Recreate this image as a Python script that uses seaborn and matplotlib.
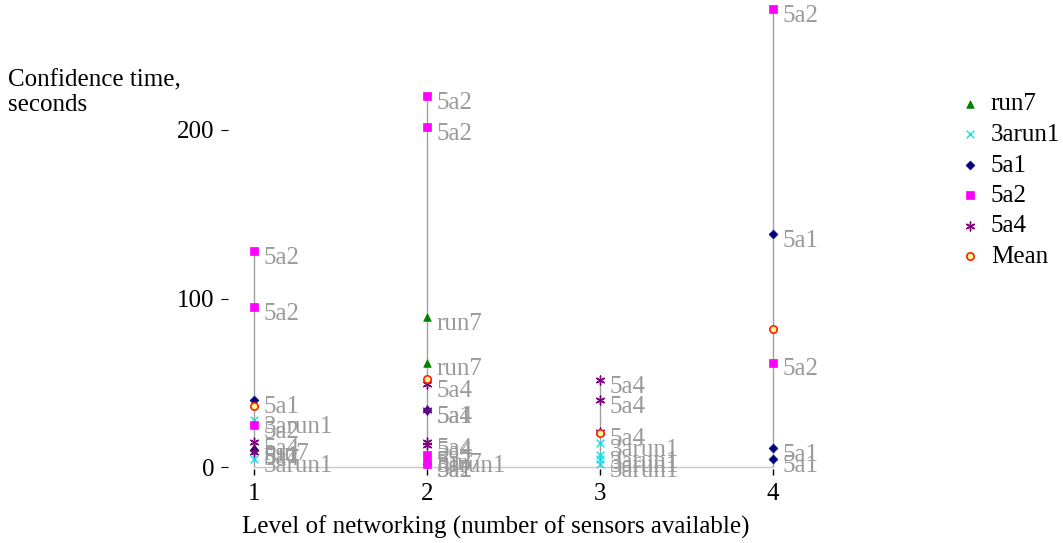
import matplotlib
matplotlib.use("Agg")
import matplotlib.pyplot as plt
import seaborn as sns
import pandas as pd

# ---- data ----
levels = [1, 2, 3, 4]
level_labels = ["1", "2", "3", "4"]

run7_level = [1, 2, 2, 2]
run7_time = [12, 89, 62, 6]

arun1_level = [1, 1, 2, 3, 3, 3, 3]
arun1_time = [28, 5, 5, 14, 7, 4.5, 2]

a51_level = [1, 1, 2, 2, 4, 4, 4]
a51_time = [40, 10, 34, 2, 138, 11, 5]

a52_level = [1, 1, 1, 2, 2, 2, 2, 4, 4]
a52_time = [128, 95, 25, 220, 202, 7, 1.5, 272, 62]

a54_level = [1, 1, 2, 2, 2, 2, 3, 3, 3]
a54_time = [15, 9, 49, 34, 15, 13, 51.5, 40, 21]

mean_level = [1, 2, 3, 4]
mean_time = [36, 52.5, 20, 82]

series_names = ["run7", "3arun1", "5a1", "5a2", "5a4"]
series_levels = [run7_level, arun1_level, a51_level, a52_level, a54_level]
series_times = [run7_time, arun1_time, a51_time, a52_time, a54_time]

# ---- style ----
sns.set_style("white")
plt.rcParams["font.family"] = ["Liberation Serif", "DejaVu Serif"]
plt.rcParams["text.color"] = "black"
plt.rcParams["axes.labelcolor"] = "black"
FS = 18
LABEL_GRAY = "#9a9a9a"

styles = {
    "run7": dict(marker="^", color="#008000", s=30, filled=True),
    "3arun1": dict(marker="x", color="#00e5ee", s=30, filled=False),
    "5a1": dict(marker="D", color="#000080", s=20, filled=True),
    "5a2": dict(marker="s", color="#ff00ff", s=28, filled=True),
    "5a4": dict(marker=(6, 2, 0), color="#800080", s=40, filled=False),
}

fig = plt.figure(figsize=(10.63, 5.43), dpi=100)
ax = fig.add_axes([228 / 1063, (543 - 468.7) / 543, 622.8 / 1063, (468.7 - 3.6) / 543])
ax.set_xlim(0.85, 4.45)
ax.set_ylim(-1, 275)

# long-form table
rows = []
for name, lv, tm in zip(series_names, series_levels, series_times):
    for l, t in zip(lv, tm):
        rows.append({"level": l, "time": t, "series": name})
df = pd.DataFrame(rows)

# vertical range lines per level and baseline
for lv in levels:
    mx = df.loc[df["level"] == lv, "time"].max()
    ax.plot([lv, lv], [0, mx], color="#a0a0a0", lw=1, zorder=1)
ax.plot([levels[0], levels[-1]], [0, 0], color="#c8c8c8", lw=1, zorder=1)

# points
for name in series_names:
    st = styles[name]
    sub = df[df["series"] == name]
    kw = dict(data=sub, x="level", y="time", marker=st["marker"], color=st["color"],
              s=st["s"], ax=ax, label=name, zorder=3)
    if st["filled"]:
        kw.update(edgecolor=st["color"], linewidth=0.5)
    else:
        kw.update(linewidth=1.0)
    sns.scatterplot(**kw)

mean_df = pd.DataFrame({"level": mean_level, "time": mean_time})
sns.scatterplot(data=mean_df, x="level", y="time", marker="o", s=28,
                facecolor="#ffff99", edgecolor="#ff2000", linewidth=1.2,
                ax=ax, label="Mean", zorder=4)

# point labels
for _, r in df.iterrows():
    ax.annotate(r["series"], (r["level"], r["time"]), xytext=(7, -5),
                textcoords="offset points", color=LABEL_GRAY, fontsize=FS,
                va="center", ha="left", zorder=2)

# axes cosmetics
for sp in ax.spines.values():
    sp.set_visible(False)
ax.set_xticks(levels)
ax.set_xticklabels(level_labels)
ax.set_yticks([0, 100, 200])
ax.tick_params(axis="both", labelsize=FS, colors="black", direction="out",
               left=True, bottom=True)
ax.tick_params(axis="x", length=4, width=1, pad=6)
ax.tick_params(axis="y", length=5, width=0.8, pad=5)
ax.set_xlabel("Level of networking (number of sensors available)", fontsize=FS, color="black")
ax.xaxis.set_label_coords((496 - 228) / 622.8, -0.1)
ax.set_ylabel("")
fig.text(8 / 1063, 1 - 69 / 543, "Confidence time,\nseconds", fontsize=FS,
         ha="left", va="top", linespacing=1.2, color="black")

leg = ax.legend(loc="upper left", bbox_to_anchor=(957 / 1063, 1 - 93 / 543),
                bbox_transform=fig.transFigure, frameon=False, fontsize=FS,
                labelspacing=0.32, handletextpad=0.35, handlelength=1.0,
                borderpad=0, borderaxespad=0, markerscale=1.0)
for t in leg.get_texts():
    t.set_color("black")

fig.savefig("out.png", dpi=100)
